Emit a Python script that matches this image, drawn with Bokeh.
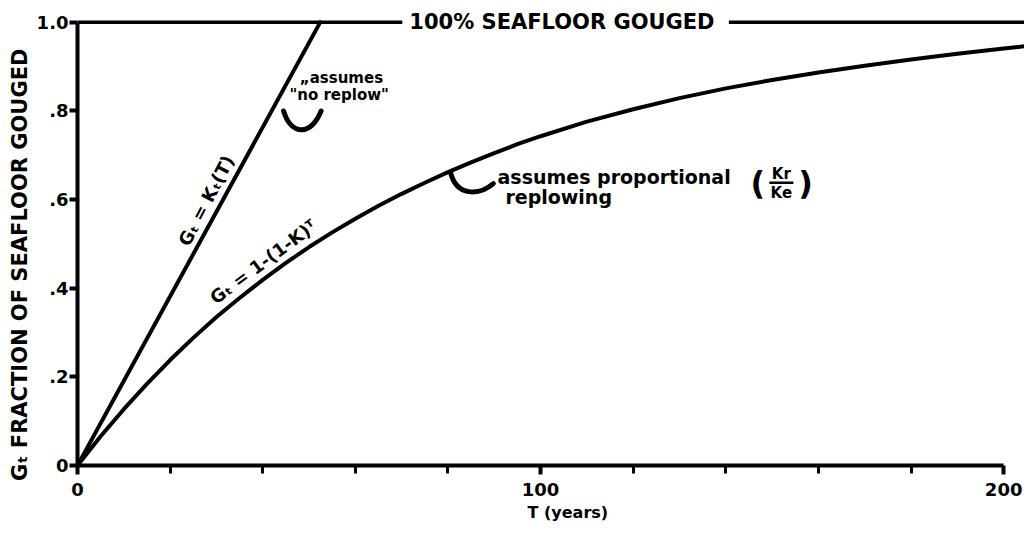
from bokeh.plotting import figure
from bokeh.models import Range1d, FixedTicker, Label, Title
from bokeh.embed import file_html
from bokeh.resources import INLINE

# ---- data ----
T_curve = [0, 5, 10, 15, 20, 25, 30, 35, 40, 45, 50, 55, 60, 65, 70, 75, 80, 85, 90, 95, 100,
           110, 120, 130, 140, 150, 160, 170, 180, 190, 200, 204.5]
G_curve = [0, 0.066, 0.127, 0.184, 0.238, 0.288, 0.335, 0.378, 0.419, 0.457, 0.493, 0.526,
           0.557, 0.586, 0.613, 0.638, 0.662, 0.684, 0.705, 0.725, 0.743,
           0.776, 0.804, 0.829, 0.851, 0.870, 0.887, 0.902, 0.916, 0.929, 0.941, 0.946]
T_line = [0, 52.4]
G_line = [0, 1.0]
T_full = [0, 204.5]
G_full = [1.0, 1.0]

x_ticks = [0, 100, 200]
x_minor = [20, 40, 60, 80, 120, 140, 160, 180]
y_ticks = [0, 0.2, 0.4, 0.6, 0.8, 1.0]
y_tick_labels = ["0", ".2", ".4", ".6", ".8", "1.0"]

# hook marks (start, control1, control2, end)
hook_x0 = [44.5, 80.6]
hook_y0 = [0.800, 0.660]
hook_cx0 = [46.2, 81.9]
hook_cy0 = [0.742, 0.608]
hook_cx1 = [50.6, 86.6]
hook_cy1 = [0.745, 0.608]
hook_x1 = [52.6, 89.8]
hook_y1 = [0.800, 0.636]

FONT = "DejaVu Sans"

p = figure(width=1024, height=544, x_range=Range1d(0, 204.5), y_range=Range1d(0, 1.038),
           output_backend="svg", toolbar_location=None,
           min_border_left=77, min_border_right=0, min_border_top=5, min_border_bottom=79)
p.outline_line_color = None
p.grid.visible = False
p.background_fill_color = "white"
p.border_fill_color = "white"

# asymptote line
p.line(T_full, G_full, line_color="black", line_width=3.5)
# straight line (no replow)
p.line(T_line, G_line, line_color="black", line_width=4, line_cap="round")
# curve (proportional replowing)
p.line(T_curve, G_curve, line_color="black", line_width=4, line_join="round", line_cap="round")

# hooks
p.bezier(x0=hook_x0, y0=hook_y0, x1=hook_x1, y1=hook_y1, cx0=hook_cx0, cy0=hook_cy0,
         cx1=hook_cx1, cy1=hook_cy1, line_color="black", line_width=5, line_cap="round")

# axes
xa = p.xaxis[0]
xa.ticker = FixedTicker(ticks=x_ticks, minor_ticks=x_minor)
xa.bounds = (0, 200)
xa.axis_line_width = 4
xa.major_tick_line_width = 4
xa.minor_tick_line_width = 3
xa.major_tick_in = 0
xa.major_tick_out = 9
xa.minor_tick_in = 0
xa.minor_tick_out = 8
xa.major_label_standoff = 8
xa.major_label_text_font = FONT
xa.major_label_text_font_style = "bold"
xa.major_label_text_font_size = "18px"
xa.major_label_text_color = "black"

p.add_layout(Title(text="T  (years)", align="left", offset=450, standoff=5,
                   text_font=FONT, text_font_style="bold", text_font_size="16px",
                   text_color="black"), "below")

ya = p.yaxis[0]
ya.ticker = FixedTicker(ticks=y_ticks)
ya.major_label_overrides = dict(zip(y_ticks, y_tick_labels))
ya.bounds = (0, 1.0)
ya.axis_line_width = 4
ya.major_tick_line_width = 4
ya.major_tick_in = 0
ya.major_tick_out = 8
ya.minor_tick_out = 0
ya.minor_tick_in = 0
ya.major_label_standoff = 1
ya.major_label_text_font = FONT
ya.major_label_text_font_style = "bold"
ya.major_label_text_font_size = "18px"
ya.major_label_text_color = "black"
ya.axis_label = "G\u209c   FRACTION   OF   SEAFLOOR   GOUGED"
ya.axis_label_text_font = FONT
ya.axis_label_text_font_style = "bold"
ya.axis_label_text_font_size = "21px"
ya.axis_label_text_color = "black"
ya.axis_label_standoff = 2


def lab(x, y, text, size="15px", angle=0.0, align="center", **kw):
    p.add_layout(Label(x=x, y=y, text=text, angle=angle, text_align=align,
                       text_baseline="middle", text_font=FONT, text_font_style="bold",
                       text_font_size=size, text_color="black", **kw))


lab(105.4, 1.0, "100% SEAFLOOR  GOUGED", size="21px", background_fill_color="white",
    padding=7)
lab(27.8, 0.598, "G\u209c = K\u209c(T)", size="18px", angle=1.09)
lab(40.1, 0.460, "G\u209c = 1-(1-K)\u1d40", size="18px", angle=0.64)
lab(57.0, 0.874, "\u201eassumes", size="15px")
lab(56.5, 0.835, "\"no replow\"", size="15px")
lab(90.7, 0.652, "assumes  proportional", size="19px", align="left")
lab(92.4, 0.607, "replowing", size="19px", align="left")
lab(146.9, 0.637, "(", size="32px")
lab(157.2, 0.637, ")", size="32px")
lab(152.0, 0.658, "Kr", size="15px")
lab(152.0, 0.615, "Ke", size="15px")
p.segment(x0=[149.4], y0=[0.638], x1=[154.6], y1=[0.638], line_color="black", line_width=2.5)

open("out.html", "w").write(file_html(p, INLINE))
